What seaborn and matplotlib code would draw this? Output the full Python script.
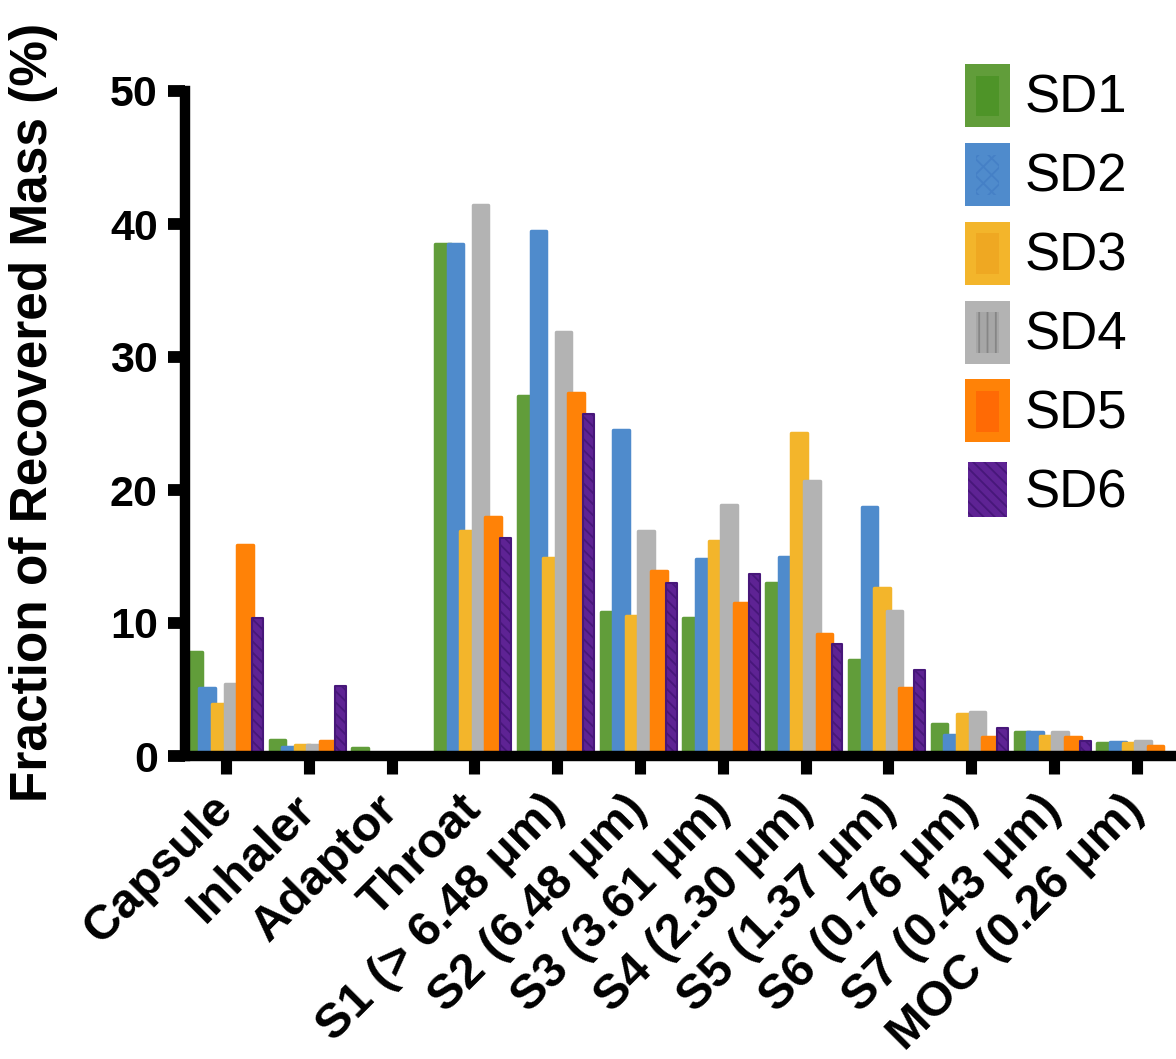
import matplotlib
matplotlib.use("Agg")
import matplotlib.pyplot as plt
import seaborn as sns
import pandas as pd
from matplotlib.patches import Rectangle, Patch
from matplotlib.legend_handler import HandlerBase
from matplotlib.transforms import ScaledTranslation

# ---------------- data ----------------
stages = ["Capsule", "Inhaler", "Adaptor", "Throat",
          "S1 (> 6.48 μm)", "S2 (6.48 μm)", "S3 (3.61 μm)", "S4 (2.30 μm)",
          "S5 (1.37 μm)", "S6 (0.76 μm)", "S7 (0.43 μm)", "MOC (0.26 μm)"]
samples = ["SD1", "SD2", "SD3", "SD4", "SD5", "SD6"]

sd1 = [7.8, 1.2, 0.6, 38.5, 27.1, 10.8, 10.4, 13.0, 7.2, 2.4, 1.8, 1.0]
sd2 = [5.1, 0.7, 0.0, 38.5, 39.5, 24.5, 14.8, 15.0, 18.7, 1.6, 1.8, 1.05]
sd3 = [3.9, 0.8, 0.0, 16.9, 14.9, 10.5, 16.2, 24.3, 12.6, 3.15, 1.5, 0.95]
sd4 = [5.4, 0.8, 0.0, 41.4, 31.9, 16.9, 18.9, 20.7, 10.9, 3.3, 1.8, 1.15]
sd5 = [15.9, 1.1, 0.0, 18.0, 27.3, 13.9, 11.5, 9.15, 5.1, 1.4, 1.45, 0.75]
sd6 = [10.4, 5.25, 0.0, 16.4, 25.7, 13.0, 13.7, 8.4, 6.5, 2.1, 1.1, 0.0]

colors = ["#619D3A", "#4F8BCC", "#F3B52B", "#B3B3B3", "#FF8207", "#5E2394"]

df = pd.DataFrame({
    "stage": stages * 6,
    "sample": [s for s in samples for _ in stages],
    "value": sd1 + sd2 + sd3 + sd4 + sd5 + sd6,
})

# ---------------- style ----------------
sns.set_theme(style="ticks")
plt.rcParams["font.family"] = ["Liberation Sans", "DejaVu Sans"]
plt.rcParams["hatch.linewidth"] = 1.3
for k in ("text.color", "axes.labelcolor", "xtick.color", "ytick.color",
          "axes.edgecolor"):
    plt.rcParams[k] = "black"

W, H = 1176, 1059
fig = plt.figure(figsize=(W / 100, H / 100), dpi=100)
ax = fig.add_axes([185 / W, 1 - 756 / H, (W - 185) / W, (756 - 91) / H])

sns.barplot(data=df, x="stage", y="value", hue="sample", order=stages,
            hue_order=samples, palette=colors, saturation=1, width=0.912,
            dodge=True, errorbar=None, legend=False, ax=ax)

# overlapping rounded bars like the original
edge_lw = 2.5
edge_units = edge_lw / 72 * 100 / 82.8
for i, cont in enumerate(ax.containers):
    for bar in cont:
        cx = bar.get_x() + bar.get_width() / 2
        if i < 5:
            w = 0.2295 - edge_units
            bar.set_edgecolor(colors[i])
            bar.set_linewidth(edge_lw)
        else:
            w = 0.157 - 0.6 * edge_units
            bar.set_edgecolor("#47177A")
            bar.set_linewidth(1.5)
            bar.set_hatch("\\\\\\")
        bar.set_joinstyle("round")
        bar.set_width(w)
        bar.set_x(cx - w / 2)

ax.set_xlim(-0.495, 11.475)
ax.set_ylim(0, 50)
ax.set_yticks([0, 10, 20, 30, 40, 50])
ax.set_yticklabels(["0", "10", "20", "30", "40", "50"],
                   fontsize=31, fontweight="bold")
ax.set_xticks(range(len(stages)))
ax.set_xticklabels(stages, rotation=45, ha="right", va="top",
                   rotation_mode="anchor", fontsize=35, fontweight="bold")
ax.set_xlabel("")
ax.set_ylabel("Fraction of Recovered Mass (%)", fontsize=37, fontweight="bold")
ax.yaxis.set_label_coords(-0.128, 0.517)

sns.despine(ax=ax)
for side in ("left", "bottom"):
    ax.spines[side].set_linewidth(7.5)
    ax.spines[side].set_color("black")
ax.tick_params(axis="y", length=12.6, width=8.5, pad=7, color="black")
ax.tick_params(axis="x", length=13, width=8, pad=9, color="black")
ax.set_facecolor("white")
ax.grid(False)

shift = ScaledTranslation(-16 / 100, 0, fig.dpi_scale_trans)
for lbl in ax.get_xticklabels():
    lbl.set_transform(lbl.get_transform() + shift)

# ---------------- legend ----------------
class SwatchHandler(HandlerBase):
    def __init__(self, inner=None, hatch=None, hatch_edge=None, shrink=0.0):
        super().__init__()
        self.inner = inner
        self.hatch = hatch
        self.hatch_edge = hatch_edge
        self.shrink = shrink

    def create_artists(self, legend, orig_handle, xdescent, ydescent,
                       width, height, fontsize, trans):
        x0, y0 = -xdescent, -ydescent
        sx, sy = width * self.shrink, height * self.shrink
        arts = []
        outer = Rectangle((x0 + sx, y0 + sy), width - 2 * sx, height - 2 * sy,
                          facecolor=orig_handle.get_facecolor(),
                          edgecolor=self.hatch_edge if (self.inner is None and self.hatch) else "none",
                          hatch=self.hatch if self.inner is None else None,
                          lw=0.0, transform=trans)
        arts.append(outer)
        if self.inner is not None:
            inner = Rectangle((x0 + width * 0.245, y0 + height * 0.17),
                              width * 0.51, height * 0.645,
                              facecolor=self.inner,
                              edgecolor=self.hatch_edge if self.hatch else "none",
                              hatch=self.hatch, lw=0.0, transform=trans)
            arts.append(inner)
        return arts

handles = [Patch(facecolor=c) for c in colors]
handler_map = {
    handles[0]: SwatchHandler(inner="#4E9428"),
    handles[1]: SwatchHandler(inner="#4F8BCC", hatch="xx", hatch_edge="#4580C6"),
    handles[2]: SwatchHandler(inner="#EFA822"),
    handles[3]: SwatchHandler(inner="#A6A6A6", hatch="||", hatch_edge="#868686"),
    handles[4]: SwatchHandler(inner="#FF6A05"),
    handles[5]: SwatchHandler(hatch="\\\\\\", hatch_edge="#47177A", shrink=0.06),
}
fig.legend(handles, samples, handler_map=handler_map,
           loc="upper left", bbox_to_anchor=(965 / W, 1 - 64 / H),
           frameon=False, fontsize=38, handlelength=0.85, handleheight=1.46,
           labelspacing=0.3, handletextpad=0.28, borderpad=0, borderaxespad=0)

fig.savefig("out.png", dpi=100, facecolor="white")
